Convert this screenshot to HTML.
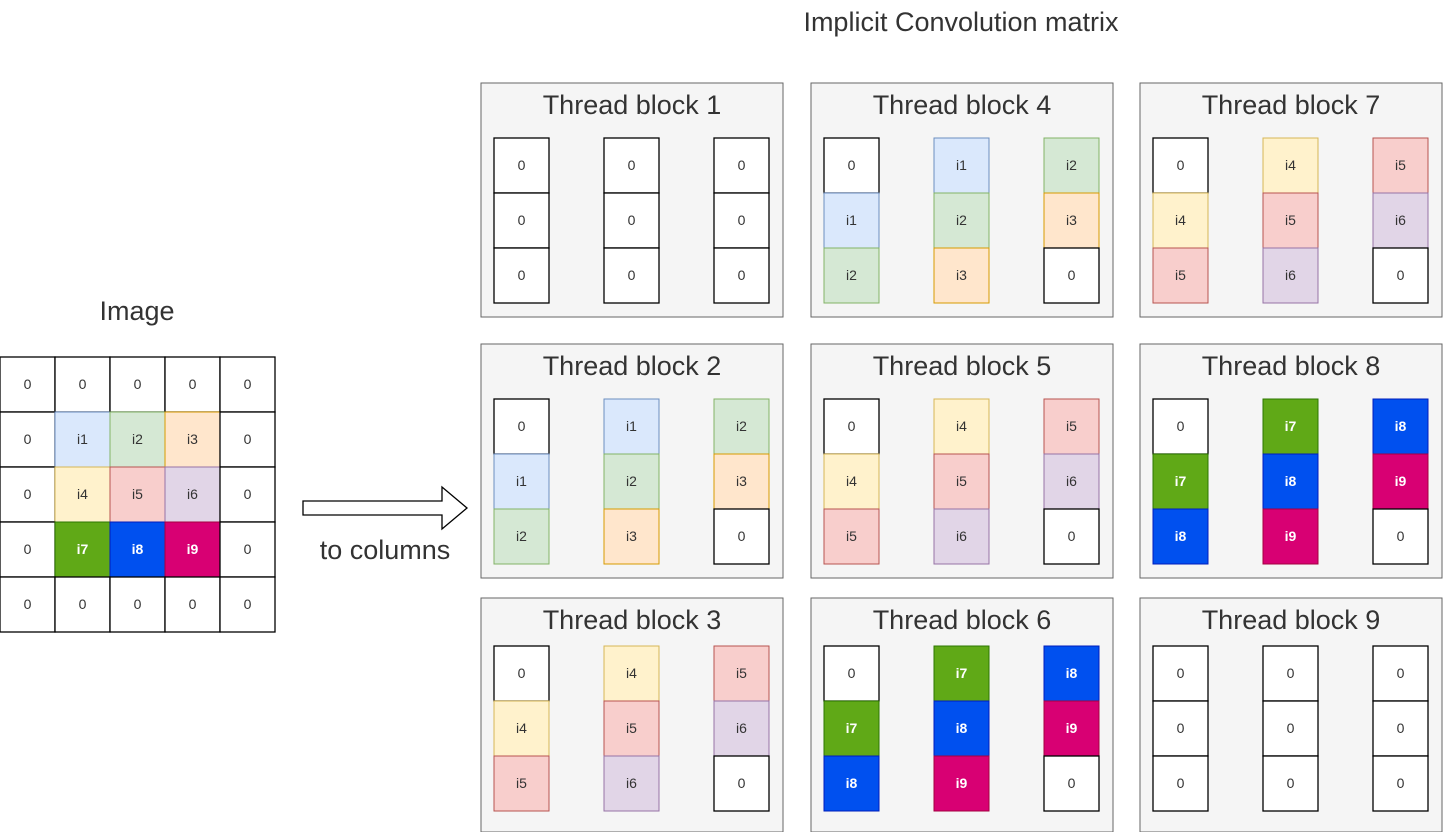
<!DOCTYPE html>
<html><head><meta charset="utf-8"><style>
html,body{margin:0;padding:0;background:#fff;}
svg{display:block;font-family:"Liberation Sans",Arial,sans-serif;}
.t{font-size:14px;text-anchor:middle;fill:#333;}
.w{fill:#fff;font-weight:bold;}
.h{font-size:27px;text-anchor:middle;fill:#333;}
</style></head><body>
<svg width="1444" height="832" viewBox="0 0 1444 832" xmlns="http://www.w3.org/2000/svg">
<defs>
<g id="Z"><rect x="0" y="0" width="55" height="55" fill="#fff" stroke="#000" stroke-width="1.3"/><text x="27.5" y="32" class="t">0</text></g>
<g id="A1"><rect width="55" height="55" fill="#dae8fc" stroke="#6c8ebf"/><text x="27.5" y="32" class="t">i1</text></g>
<g id="A2"><rect width="55" height="55" fill="#d5e8d4" stroke="#82b366"/><text x="27.5" y="32" class="t">i2</text></g>
<g id="A3"><rect width="55" height="55" fill="#ffe6cc" stroke="#d79b00"/><text x="27.5" y="32" class="t">i3</text></g>
<g id="A4"><rect width="55" height="55" fill="#fff2cc" stroke="#d6b656"/><text x="27.5" y="32" class="t">i4</text></g>
<g id="A5"><rect width="55" height="55" fill="#f8cecc" stroke="#b85450"/><text x="27.5" y="32" class="t">i5</text></g>
<g id="A6"><rect width="55" height="55" fill="#e1d5e7" stroke="#9673a6"/><text x="27.5" y="32" class="t">i6</text></g>
<g id="A7"><rect width="55" height="55" fill="#60a917" stroke="#2d7600"/><text x="27.5" y="32" class="t w">i7</text></g>
<g id="A8"><rect width="55" height="55" fill="#0050ef" stroke="#001dbc"/><text x="27.5" y="32" class="t w">i8</text></g>
<g id="A9"><rect width="55" height="55" fill="#d80073" stroke="#a50040"/><text x="27.5" y="32" class="t w">i9</text></g>
</defs>
<text x="961" y="31" font-size="27" text-anchor="middle" fill="#333">Implicit Convolution matrix</text>
<text x="137" y="320" font-size="27" text-anchor="middle" fill="#333">Image</text>

<use href="#Z" x="0" y="357"/><use href="#Z" x="55" y="357"/><use href="#Z" x="110" y="357"/><use href="#Z" x="165" y="357"/><use href="#Z" x="220" y="357"/>
<use href="#Z" x="0" y="412"/><use href="#A1" x="55" y="412"/><use href="#A2" x="110" y="412"/><use href="#A3" x="165" y="412"/><use href="#Z" x="220" y="412"/>
<use href="#Z" x="0" y="467"/><use href="#A4" x="55" y="467"/><use href="#A5" x="110" y="467"/><use href="#A6" x="165" y="467"/><use href="#Z" x="220" y="467"/>
<use href="#Z" x="0" y="522"/><use href="#A7" x="55" y="522"/><use href="#A8" x="110" y="522"/><use href="#A9" x="165" y="522"/><use href="#Z" x="220" y="522"/>
<use href="#Z" x="0" y="577"/><use href="#Z" x="55" y="577"/><use href="#Z" x="110" y="577"/><use href="#Z" x="165" y="577"/><use href="#Z" x="220" y="577"/>

<polygon points="303,501 442,501 442,487 467,508 442,529 442,515 303,515" fill="#fff" stroke="#000" stroke-width="1.3"/>
<text x="385" y="559" font-size="27" text-anchor="middle" fill="#333">to columns</text>

<g transform="translate(481,83)">
<rect width="302" height="234" fill="#f5f5f5" stroke="#666"/>
<text x="151" y="31" class="h">Thread block 1</text>
<use href="#Z" x="13" y="55"/><use href="#Z" x="13" y="110"/><use href="#Z" x="13" y="165"/>
<use href="#Z" x="123" y="55"/><use href="#Z" x="123" y="110"/><use href="#Z" x="123" y="165"/>
<use href="#Z" x="233" y="55"/><use href="#Z" x="233" y="110"/><use href="#Z" x="233" y="165"/>
</g>
<g transform="translate(481,344)">
<rect width="302" height="234" fill="#f5f5f5" stroke="#666"/>
<text x="151" y="31" class="h">Thread block 2</text>
<use href="#Z" x="13" y="55"/><use href="#A1" x="13" y="110"/><use href="#A2" x="13" y="165"/>
<use href="#A1" x="123" y="55"/><use href="#A2" x="123" y="110"/><use href="#A3" x="123" y="165"/>
<use href="#A2" x="233" y="55"/><use href="#A3" x="233" y="110"/><use href="#Z" x="233" y="165"/>
</g>
<g transform="translate(481,598)">
<rect width="302" height="234" fill="#f5f5f5" stroke="#666"/>
<text x="151" y="31" class="h">Thread block 3</text>
<use href="#Z" x="13" y="48"/><use href="#A4" x="13" y="103"/><use href="#A5" x="13" y="158"/>
<use href="#A4" x="123" y="48"/><use href="#A5" x="123" y="103"/><use href="#A6" x="123" y="158"/>
<use href="#A5" x="233" y="48"/><use href="#A6" x="233" y="103"/><use href="#Z" x="233" y="158"/>
</g>
<g transform="translate(811,83)">
<rect width="302" height="234" fill="#f5f5f5" stroke="#666"/>
<text x="151" y="31" class="h">Thread block 4</text>
<use href="#Z" x="13" y="55"/><use href="#A1" x="13" y="110"/><use href="#A2" x="13" y="165"/>
<use href="#A1" x="123" y="55"/><use href="#A2" x="123" y="110"/><use href="#A3" x="123" y="165"/>
<use href="#A2" x="233" y="55"/><use href="#A3" x="233" y="110"/><use href="#Z" x="233" y="165"/>
</g>
<g transform="translate(811,344)">
<rect width="302" height="234" fill="#f5f5f5" stroke="#666"/>
<text x="151" y="31" class="h">Thread block 5</text>
<use href="#Z" x="13" y="55"/><use href="#A4" x="13" y="110"/><use href="#A5" x="13" y="165"/>
<use href="#A4" x="123" y="55"/><use href="#A5" x="123" y="110"/><use href="#A6" x="123" y="165"/>
<use href="#A5" x="233" y="55"/><use href="#A6" x="233" y="110"/><use href="#Z" x="233" y="165"/>
</g>
<g transform="translate(811,598)">
<rect width="302" height="234" fill="#f5f5f5" stroke="#666"/>
<text x="151" y="31" class="h">Thread block 6</text>
<use href="#Z" x="13" y="48"/><use href="#A7" x="13" y="103"/><use href="#A8" x="13" y="158"/>
<use href="#A7" x="123" y="48"/><use href="#A8" x="123" y="103"/><use href="#A9" x="123" y="158"/>
<use href="#A8" x="233" y="48"/><use href="#A9" x="233" y="103"/><use href="#Z" x="233" y="158"/>
</g>
<g transform="translate(1140,83)">
<rect width="302" height="234" fill="#f5f5f5" stroke="#666"/>
<text x="151" y="31" class="h">Thread block 7</text>
<use href="#Z" x="13" y="55"/><use href="#A4" x="13" y="110"/><use href="#A5" x="13" y="165"/>
<use href="#A4" x="123" y="55"/><use href="#A5" x="123" y="110"/><use href="#A6" x="123" y="165"/>
<use href="#A5" x="233" y="55"/><use href="#A6" x="233" y="110"/><use href="#Z" x="233" y="165"/>
</g>
<g transform="translate(1140,344)">
<rect width="302" height="234" fill="#f5f5f5" stroke="#666"/>
<text x="151" y="31" class="h">Thread block 8</text>
<use href="#Z" x="13" y="55"/><use href="#A7" x="13" y="110"/><use href="#A8" x="13" y="165"/>
<use href="#A7" x="123" y="55"/><use href="#A8" x="123" y="110"/><use href="#A9" x="123" y="165"/>
<use href="#A8" x="233" y="55"/><use href="#A9" x="233" y="110"/><use href="#Z" x="233" y="165"/>
</g>
<g transform="translate(1140,598)">
<rect width="302" height="234" fill="#f5f5f5" stroke="#666"/>
<text x="151" y="31" class="h">Thread block 9</text>
<use href="#Z" x="13" y="48"/><use href="#Z" x="13" y="103"/><use href="#Z" x="13" y="158"/>
<use href="#Z" x="123" y="48"/><use href="#Z" x="123" y="103"/><use href="#Z" x="123" y="158"/>
<use href="#Z" x="233" y="48"/><use href="#Z" x="233" y="103"/><use href="#Z" x="233" y="158"/>
</g>
</svg>
</body></html>
